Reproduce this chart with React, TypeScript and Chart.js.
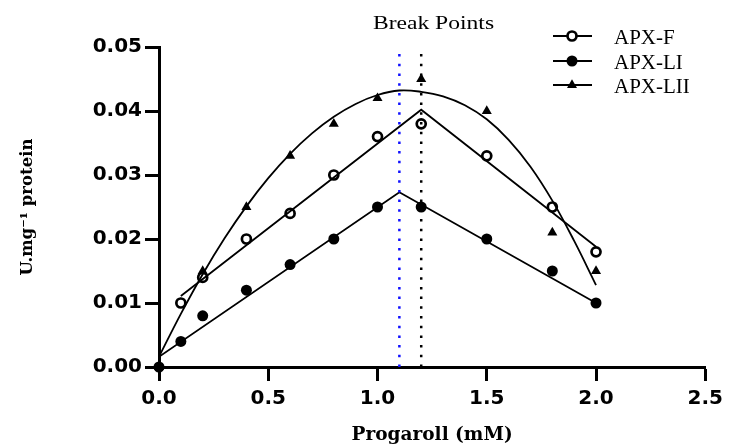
import React, { useEffect, useRef } from 'react';
import { Chart, registerables } from 'chart.js';

Chart.register(...registerables);

// ---- Data ----
const concentrations = [0, 0.1, 0.2, 0.4, 0.6, 0.8, 1.0, 1.2, 1.5, 1.8, 2.0];
const apxF: (number | null)[] = [null, 0.010, 0.014, 0.020, 0.024, 0.030, 0.036, 0.038, 0.033, 0.025, 0.018];
const apxLI: (number | null)[] = [0, 0.004, 0.008, 0.012, 0.016, 0.020, 0.025, 0.025, 0.020, 0.015, 0.010];
const apxLII: (number | null)[] = [0, 0.010, 0.015, 0.025, 0.033, 0.038, 0.042, 0.045, 0.040, 0.021, 0.015];

// segmented regression lines
const fitFX = [0.1, 1.2, 2.0];
const fitFY = [0.0111, 0.0402, 0.0188];
const fitLIX = [0, 1.1, 2.0];
const fitLIY = [0.0016, 0.0273, 0.0100];
// polynomial curve (APX-LII)
const fitLIIX = [0, 0.1, 0.2, 0.3, 0.4, 0.5, 0.6, 0.7, 0.8, 0.9, 1.0, 1.1, 1.2, 1.3, 1.4, 1.5, 1.6, 1.7, 1.8, 1.9, 2.0];
const fitLIIY = [0.0016, 0.0083, 0.0145, 0.0201, 0.0251, 0.0295, 0.0333, 0.0365, 0.0391, 0.0411, 0.0425, 0.0432, 0.0430, 0.0423, 0.0409, 0.0387, 0.0355, 0.0313, 0.0260, 0.0197, 0.0128];

const breakPointBlue = 1.1;
const breakPointBlack = 1.2;
const yRange = [0, 0.05];

const seriesNames = ['APX-F', 'APX-LI', 'APX-LII'];
const annotationText = 'Break Points';
const xTitle = 'Progaroll (mM)';
const yTitle = 'U.mg\u207B\u00B9 protein';

const toPoints = (xs: number[], ys: (number | null)[]) =>
  xs.map((x, i) => ({ x, y: ys[i] })).filter((p) => p.y !== null) as { x: number; y: number }[];

function drawMarker(ctx: CanvasRenderingContext2D, kind: number, x: number, y: number) {
  ctx.save();
  ctx.fillStyle = '#000';
  ctx.strokeStyle = '#000';
  if (kind === 0) {
    ctx.beginPath();
    ctx.arc(x, y, 4.5, 0, Math.PI * 2);
    ctx.fillStyle = '#fff';
    ctx.fill();
    ctx.lineWidth = 2.7;
    ctx.stroke();
  } else if (kind === 1) {
    ctx.beginPath();
    ctx.arc(x, y, 5.5, 0, Math.PI * 2);
    ctx.fill();
  } else {
    const r = 5.8;
    ctx.beginPath();
    for (let k = 0; k < 3; k++) {
      const a = (k * 2 * Math.PI) / 3;
      const px = x + Math.sin(a) * r;
      const py = y - Math.cos(a) * r;
      if (k === 0) ctx.moveTo(px, py);
      else ctx.lineTo(px, py);
    }
    ctx.closePath();
    ctx.fill();
  }
  ctx.restore();
}

const overlayPlugin = {
  id: 'overlay',
  afterDraw(chart: any) {
    const ctx: CanvasRenderingContext2D = chart.ctx;
    ctx.save();
    // Break Points label
    ctx.font = '18px "Liberation Serif"';
    ctx.fillStyle = '#000';
    ctx.textAlign = 'center';
    ctx.textBaseline = 'alphabetic';
    ctx.translate(433.5, 29);
    ctx.scale(1.31, 1);
    ctx.fillText(annotationText, 0, 0);
    ctx.restore();

    // Legend
    const rows = [36, 61, 85];
    ctx.save();
    seriesNames.forEach((name, i) => {
      const y = rows[i];
      ctx.beginPath();
      ctx.strokeStyle = '#000';
      ctx.lineWidth = 2;
      ctx.moveTo(553, y);
      ctx.lineTo(592, y);
      ctx.stroke();
      drawMarker(ctx, i, 572, y);
      ctx.font = '21px "Liberation Serif"';
      ctx.fillStyle = '#000';
      ctx.textAlign = 'left';
      ctx.textBaseline = 'alphabetic';
      ctx.fillText(name, 614, y + 7.5);
    });
    ctx.restore();
  },
};

export default function App() {
  const canvasRef = useRef<HTMLCanvasElement | null>(null);

  useEffect(() => {
    if (!canvasRef.current) return;
    const tickFont = { family: '"DejaVu Sans"', size: 20, weight: 'bold' as const };
    const chart = new Chart(canvasRef.current, {
      type: 'line',
      data: {
        datasets: [
          {
            label: 'Break point 1',
            data: [
              { x: breakPointBlue, y: yRange[0] },
              { x: breakPointBlue, y: yRange[1] },
            ],
            borderColor: '#1010ff',
            borderWidth: 2.5,
            borderDash: [2.5, 7.2],
            pointRadius: 0,
            order: 0,
          },
          {
            label: 'Break point 2',
            data: [
              { x: breakPointBlack, y: yRange[0] },
              { x: breakPointBlack, y: yRange[1] },
            ],
            borderColor: '#000',
            borderWidth: 2.5,
            borderDash: [2.5, 7.2],
            pointRadius: 0,
            order: 0,
          },
          {
            label: 'APX-F fit',
            data: toPoints(fitFX, fitFY),
            borderColor: '#000',
            borderWidth: 1.8,
            pointRadius: 0,
            tension: 0,
            order: 1,
          },
          {
            label: 'APX-LI fit',
            data: toPoints(fitLIX, fitLIY),
            borderColor: '#000',
            borderWidth: 1.8,
            pointRadius: 0,
            tension: 0,
            order: 1,
          },
          {
            label: 'APX-LII fit',
            data: toPoints(fitLIIX, fitLIIY),
            borderColor: '#000',
            borderWidth: 1.8,
            pointRadius: 0,
            tension: 0.4,
            order: 1,
          },
          {
            label: seriesNames[0],
            data: toPoints(concentrations, apxF),
            showLine: false,
            pointStyle: 'circle',
            pointRadius: 4.5,
            pointBorderWidth: 2.7,
            pointBackgroundColor: '#fff',
            pointBorderColor: '#000',
            clip: false,
            order: 2,
          },
          {
            label: seriesNames[1],
            data: toPoints(concentrations, apxLI),
            showLine: false,
            pointStyle: 'circle',
            pointRadius: 5.5,
            pointBorderWidth: 0,
            pointBackgroundColor: '#000',
            pointBorderColor: '#000',
            clip: false,
            order: 3,
          },
          {
            label: seriesNames[2],
            data: toPoints(concentrations, apxLII),
            showLine: false,
            pointStyle: 'triangle',
            pointRadius: 5.8,
            pointBorderWidth: 0,
            pointBackgroundColor: '#000',
            pointBorderColor: '#000',
            clip: false,
            order: 4,
          },
        ],
      },
      options: {
        animation: false,
        responsive: false,
        devicePixelRatio: 1,
        layout: { padding: { top: 47, right: 19, bottom: 0, left: 0 } },
        plugins: {
          legend: { display: false },
          tooltip: { enabled: false },
        },
        scales: {
          x: {
            type: 'linear',
            min: 0,
            max: 2.5,
            afterFit: (s: any) => {
              s.height = 79;
            },
            ticks: {
              stepSize: 0.5,
              color: '#000',
              font: tickFont,
              padding: 6,
              callback: (v: any) => Number(v).toFixed(1),
            },
            grid: {
              display: true,
              drawOnChartArea: false,
              drawTicks: true,
              tickLength: 14,
              tickWidth: 3,
              tickColor: '#000',
            },
            border: { display: true, color: '#000', width: 3 },
            title: {
              display: true,
              text: xTitle,
              color: '#000',
              font: { family: '"DejaVu Serif"', size: 18.5, weight: 'bold' },
              padding: { top: 0, bottom: 0 },
            },
          },
          y: {
            type: 'linear',
            min: yRange[0],
            max: yRange[1],
            afterFit: (s: any) => {
              s.width = 159;
            },
            ticks: {
              stepSize: 0.01,
              color: '#000',
              font: tickFont,
              padding: 3,
              callback: (v: any) => Number(v).toFixed(2),
            },
            grid: {
              display: true,
              drawOnChartArea: false,
              drawTicks: true,
              tickLength: 14,
              tickWidth: 3,
              tickColor: '#000',
            },
            border: { display: true, color: '#000', width: 3 },
            title: {
              display: true,
              text: yTitle,
              color: '#000',
              font: { family: '"DejaVu Serif"', size: 16.5, weight: 'bold' },
              padding: { top: 18, bottom: 0 },
            },
          },
        },
      },
      plugins: [overlayPlugin],
    });
    return () => chart.destroy();
  }, []);

  return (
    <div style={{ position: 'absolute', left: 0, top: 0, width: 729, height: 446, background: '#fff' }}>
      <canvas ref={canvasRef} width={729} height={446} />
    </div>
  );
}
